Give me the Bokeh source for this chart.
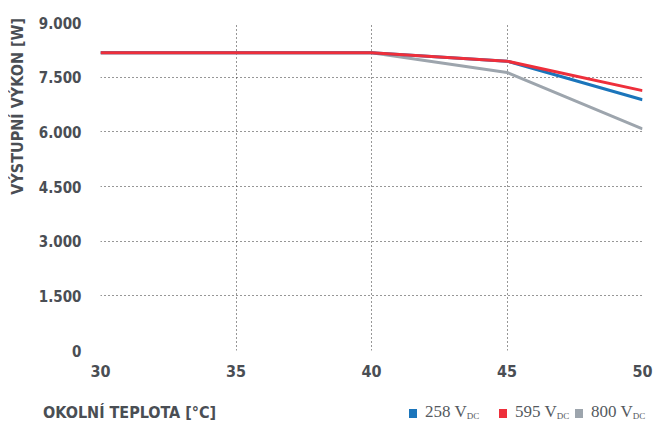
from bokeh.plotting import figure
from bokeh.models import Range1d, FixedTicker, Div
from bokeh.layouts import column, row
from bokeh.embed import file_html
from bokeh.resources import INLINE

# ---- data ----
temps = [30, 35, 40, 45, 50]
p_258 = [8170, 8170, 8170, 7940, 6880]
p_595 = [8170, 8170, 8170, 7940, 7130]
p_800 = [8170, 8170, 8170, 7630, 6080]
series_names = ["258", "595", "800"]
series_colors = ["#1b75bb", "#ee2f3b", "#9da5ad"]
x_ticks = [30, 35, 40, 45, 50]
y_ticks = [0, 1500, 3000, 4500, 6000, 7500, 9000]
y_tick_labels = ["0", "1.500", "3.000", "4.500", "6.000", "7.500", "9.000"]
x_title = "OKOLNÍ TEPLOTA [°C]"
y_title = "VÝSTUPNÍ VÝKON [W]"

W = 653
LEFT_W = 30
PH = 390
TXT = "#4a4e54"
FONT = "DejaVu Sans Condensed"

p = figure(width=W - LEFT_W, height=PH, output_backend="svg", toolbar_location=None,
           x_range=Range1d(30, 50), y_range=Range1d(0, 9000),
           min_border_left=100 - LEFT_W, min_border_right=11, min_border_top=22,
           min_border_bottom=PH - 350)
p.outline_line_color = None
p.background_fill_color = None
p.border_fill_color = "white"

for ax in (p.xaxis[0], p.yaxis[0]):
    ax.axis_line_color = None
    ax.major_tick_line_color = None
    ax.minor_tick_line_color = None
    ax.major_label_text_font = FONT
    ax.major_label_text_font_style = "bold"
    ax.major_label_text_color = TXT
p.yaxis.major_label_text_font_size = "15px"
p.xaxis.major_label_text_font_size = "16px"

p.xaxis.ticker = FixedTicker(ticks=x_ticks)
p.yaxis.ticker = FixedTicker(ticks=y_ticks)
p.yaxis.major_label_overrides = {t: l for t, l in zip(y_ticks, y_tick_labels)}
p.xaxis.major_label_standoff = 8
p.yaxis.major_label_standoff = 13

for g in (p.xgrid, p.ygrid):
    g.grid_line_color = "#2e2e2e"
    g.grid_line_dash = "1 3"
    g.grid_line_width = 1

for vals, col in zip([p_800, p_258, p_595], [series_colors[2], series_colors[0], series_colors[1]]):
    p.line(temps, vals, line_color=col, line_width=3)

# y axis title (rotated, aligned with the top of the plot)
ytitle_html = (
    f'<div style="position:relative;width:{LEFT_W}px;height:{PH}px;">'
    f'<span style="position:absolute;left:8px;top:18px;writing-mode:vertical-rl;'
    f'transform:rotate(180deg);white-space:nowrap;line-height:20px;'
    f'font-family:\'{FONT}\';font-weight:bold;font-size:16px;color:{TXT};">{y_title}</span></div>'
)
ytitle = Div(text=ytitle_html, width=LEFT_W, height=PH, margin=0)

# bottom row: x axis title and legend (HTML, for the DC subscripts)
legend_html = ""
leg_left = [409, 499, 575]
for x0, name, col in zip(leg_left, series_names, series_colors):
    legend_html += (
        f'<span style="position:absolute;left:{x0}px;top:19px;width:8px;height:9px;'
        f'background:{col};"></span>'
        f'<span style="position:absolute;left:{x0 + 16}px;top:10px;white-space:nowrap;'
        f'font-family:\'Liberation Serif\';font-size:17px;color:#555a60;">'
        f'{name} V<sub style="font-size:9px;vertical-align:-2px;">DC</sub></span>'
    )
bottom_html = (
    f'<div style="position:relative;width:{W}px;height:31px;">'
    f'<span style="position:absolute;left:43px;top:12px;white-space:nowrap;'
    f'font-family:\'{FONT}\';font-weight:bold;font-size:16px;color:{TXT};">{x_title}</span>'
    f'{legend_html}</div>'
)
bottom = Div(text=bottom_html, width=W, height=421 - PH, margin=0)

layout = column(row(ytitle, p, spacing=0), bottom, spacing=0)
open("out.html", "w").write(file_html(layout, INLINE))
